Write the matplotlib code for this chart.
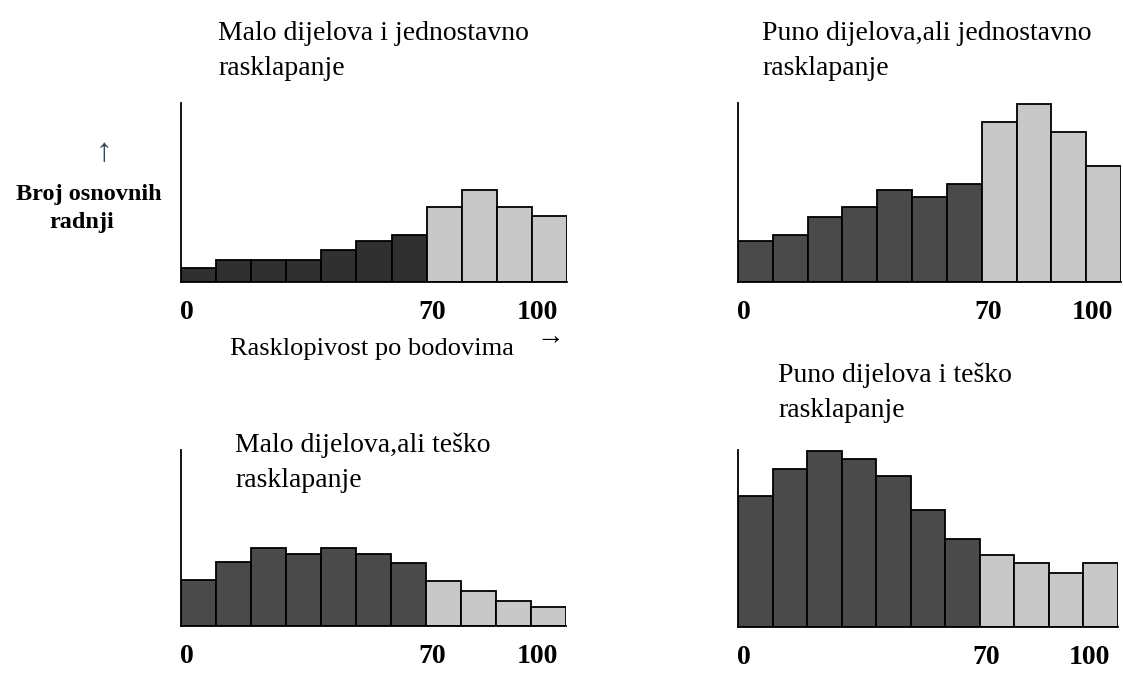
import matplotlib
matplotlib.use("Agg")
import matplotlib.pyplot as plt
import matplotlib.transforms as mtransforms
import numpy as np

plt.rcParams["font.family"] = ["Liberation Serif", "DejaVu Serif"]

# score bins (left edges, width 10) and bar heights
bin_left = [0, 10, 20, 30, 40, 50, 60, 70, 80, 90, 100]
malo_jednostavno = [14, 22, 22, 22, 32, 41, 47, 75, 92, 75, 66]
puno_jednostavno = [41, 47, 65, 75, 92, 85, 98, 160, 178, 150, 116]
malo_tesko = [46, 64, 78, 72, 78, 72, 63, 45, 35, 25, 19]
puno_tesko = [131, 158, 176, 168, 151, 117, 88, 72, 64, 54, 64]

tick_pos = [0, 70, 100]
tick_text = ["0", "70", "100"]

titles = [
    "Malo dijelova i jednostavno\nrasklapanje",
    "Puno dijelova,ali jednostavno\nrasklapanje",
    "Malo dijelova,ali teško\nrasklapanje",
    "Puno dijelova i teško\nrasklapanje",
]

W, H = 1123, 673
fig = plt.figure(figsize=(W / 100, H / 100), dpi=100)


def px_axes(left, right, top, baseline):
    return fig.add_axes([left / W, 1 - baseline / H, (right - left) / W,
                         (baseline - top) / H])


# axes box, dark colour, title anchor (left x, baseline of last line)
panels = [
    (px_axes(181, 567, 103, 282), malo_jednostavno, "#303030", (218, 75)),
    (px_axes(738, 1121, 103, 282), puno_jednostavno, "#4a4a4a", (762, 75)),
    (px_axes(181, 566, 450, 626), malo_tesko, "#4a4a4a", (235, 487)),
    (px_axes(738, 1118, 450, 627), puno_tesko, "#4a4a4a", (778, 417)),
]

for (ax, vals, dark, (tx, ty)), title in zip(panels, titles):
    colors = [dark if b < 70 else "#c8c8c8" for b in bin_left]
    ax.bar(bin_left, vals, width=10, align="edge", color=colors,
           edgecolor="black", linewidth=1.3)
    ax.set_xlim(0, 110)
    h_px = ax.get_position().height * H
    ax.set_ylim(0, h_px)
    for s in ["top", "right"]:
        ax.spines[s].set_visible(False)
    ax.spines["left"].set_linewidth(1.3)
    ax.spines["bottom"].set_linewidth(1.3)
    ax.set_yticks([])
    ax.set_xticks(tick_pos)
    ax.set_xticklabels(tick_text, fontsize=20, fontweight="bold")
    ax.tick_params(axis="x", length=0, pad=13)
    offset = mtransforms.ScaledTranslation(6 / 100, 0, fig.dpi_scale_trans)
    for lab in ax.get_xticklabels():
        lab.set_transform(lab.get_transform() + offset)
    fig.text(tx / W, 1 - ty / H, title, fontsize=20, ha="left",
             va="baseline", linespacing=1.5)

# axis hints on the first panel
fig.text(104 / W, 1 - 153 / H, "↑", fontsize=24, ha="center", va="center",
         color="#34475c")
fig.text(89 / W, 1 - 200 / H, "Broj osnovnih", fontsize=17.5,
         fontweight="bold", ha="center", va="baseline")
fig.text(82 / W, 1 - 228 / H, "radnji", fontsize=17.5,
         fontweight="bold", ha="center", va="baseline")
fig.text(230 / W, 1 - 355 / H, "Rasklopivost po bodovima", fontsize=19,
         ha="left", va="baseline")
fig.text(550 / W, 1 - 338 / H, "→", fontsize=20, ha="center", va="center")

fig.savefig("out.png", dpi=100)
